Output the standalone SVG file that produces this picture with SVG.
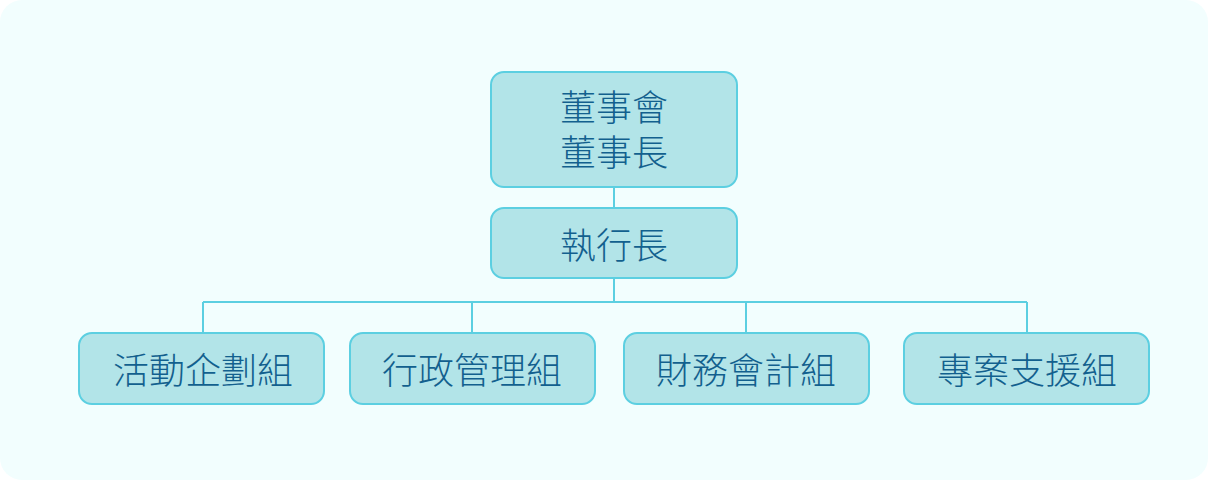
<svg xmlns="http://www.w3.org/2000/svg" width="1208" height="480" viewBox="0 0 1208 480">
<style>
.box{fill:#b2e4e8;stroke:#5ccfe1;stroke-width:2}
.t{font-family:"Noto Sans CJK TC","Noto Sans CJK SC",sans-serif;font-size:36px;font-weight:300;fill:#12608e;text-anchor:middle;dominant-baseline:central}
.c{fill:none;stroke:#5ccfe1;stroke-width:2}
</style>
<rect x="0" y="0" width="1208" height="480" fill="#ffffff"/>
<rect x="0" y="0" width="1208" height="480" rx="22" fill="#f2fefe"/>
<g id="connectors">
<path class="c" d="M614 187V208"/>
<path class="c" d="M614 278V302M203 302H1027M203 302V333M472 302V333M746 302V333M1027 302V333"/>
</g>
<g id="board">
<rect class="box" x="491" y="72" width="246" height="115" rx="13"/>
<text class="t" x="614" y="105"><tspan x="614" y="105">董事會</tspan><tspan x="614" y="149.5">董事長</tspan></text>
</g>
<g id="ceo">
<rect class="box" x="491" y="208" width="246" height="70" rx="13"/>
<text class="t" x="614" y="243">執行長</text>
</g>
<g id="events">
<rect class="box" x="79" y="333" width="245" height="71" rx="13"/>
<text class="t" x="203" y="368">活動企劃組</text>
</g>
<g id="admin">
<rect class="box" x="350" y="333" width="245" height="71" rx="13"/>
<text class="t" x="472" y="368">行政管理組</text>
</g>
<g id="finance">
<rect class="box" x="624" y="333" width="245" height="71" rx="13"/>
<text class="t" x="746" y="368">財務會計組</text>
</g>
<g id="support">
<rect class="box" x="904" y="333" width="245" height="71" rx="13"/>
<text class="t" x="1027" y="368">專案支援組</text>
</g>
</svg>
